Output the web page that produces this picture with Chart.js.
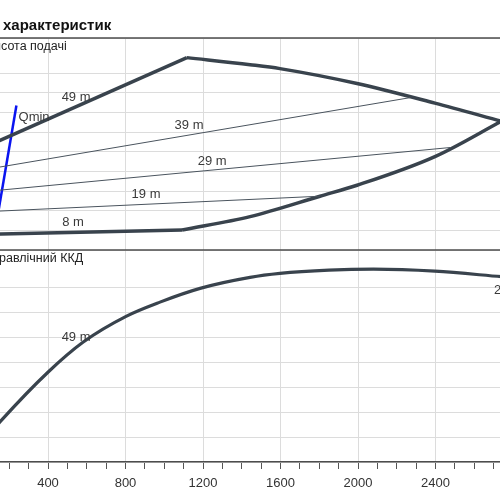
<!DOCTYPE html>
<html>
<head>
<meta charset="utf-8">
<script src="https://cdn.jsdelivr.net/npm/chart.js@4"></script>
<style>
  html, body { margin: 0; padding: 0; width: 500px; height: 500px; overflow: hidden; background: #fff; }
  #wrap { position: absolute; left: -70px; top: 0; width: 603px; height: 500px; }
</style>
</head>
<body>
<div id="wrap"><canvas id="c"></canvas></div>
<script>
// ---- data (flow in m³/h, head in m, efficiency in %) ----
const xTickLabels = [0, 400, 800, 1200, 1600, 2000, 2400];

const envLeftQ  = [100, 1117];
const envLeftH  = [26.8, 49.0];
const envRightQ = [1117, 1443, 1597, 1995, 2397, 2740];
const envRightH = [49.0, 47.2, 46.2, 42.4, 37.4, 32.8];

const sysFlatQ = [100, 1092];
const sysFlatH = [4.0, 5.1];
const sysRiseQ = [1092, 1443, 1804, 1995, 2397, 2740];
const sysRiseH = [5.1, 8.5, 13.7, 16.5, 23.8, 32.8];

const line39Q = [100, 2268];
const line39H = [20.7, 38.8];
const line29Q = [100, 2475];
const line29H = [15.0, 26.1];
const line19Q = [100, 1804];
const line19H = [9.8, 13.7];

const qminQ = [130, 237];
const qminH = [5.8, 36.8];

const effQ = [120, 152, 401, 582, 803, 978, 1185, 1443, 1597, 1850, 2080, 2397, 2740];
const effV = [13.2, 16.1, 36.1, 48.1, 58.4, 64.1, 69.6, 74.0, 75.6, 76.9, 77.3, 76.5, 74.3];

const CANVAS_LEFT = -70;
const FONT = '"Liberation Sans", Arial, sans-serif';
const CURVE = '#39434d';

function pts(q, v) { return q.map((x, i) => ({ x: x, y: v[i] })); }

function ds(q, v, axis, opts) {
  return Object.assign({
    data: pts(q, v), yAxisID: axis, borderColor: CURVE, borderWidth: 3.5,
    pointRadius: 0, fill: false, tension: 0
  }, opts || {});
}

const curveLabels = [
  { t: '49 m', q: 545, v: 38.8, axis: 'yHead', align: 'center' },
  { t: 'Qmin', q: 328, v: 33.8, axis: 'yHead', align: 'center' },
  { t: '39 m', q: 1128, v: 31.7, axis: 'yHead', align: 'center' },
  { t: '29 m', q: 1247, v: 22.6, axis: 'yHead', align: 'center' },
  { t: '19 m', q: 906, v: 14.2, axis: 'yHead', align: 'center' },
  { t: '8 m', q: 529, v: 6.9, axis: 'yHead', align: 'center' },
  { t: '49 m', q: 545, v: 50.0, axis: 'yEff', align: 'center' },
  { t: '29 m', q: 2702, v: 68.6, axis: 'yEff', align: 'left' }
];

const annot = {
  id: 'annot',
  afterDatasetsDraw(chart) {
    const { ctx, scales } = chart;
    const x = scales.x;
    ctx.save();
    // panel separators
    ctx.strokeStyle = '#4d4d4d';
    ctx.lineWidth = 1.5;
    [scales.yHead.top, scales.yEff.top].forEach(y => {
      ctx.beginPath(); ctx.moveTo(0, y); ctx.lineTo(chart.width, y); ctx.stroke();
    });
    // title
    ctx.fillStyle = '#111';
    ctx.textBaseline = 'middle';
    ctx.textAlign = 'left';
    ctx.font = 'bold 15px ' + FONT;
    ctx.fillText('Графік характеристик', 3 - CANVAS_LEFT - ctx.measureText('Графік ').width, 26);
    // panel labels
    ctx.font = '12.5px ' + FONT;
    ctx.fillStyle = '#222';
    ctx.fillText('Висота подачі', 1 - CANVAS_LEFT - ctx.measureText('Ви').width, scales.yHead.top + 9);
    ctx.fillText('Гідравлічний ККД', -1 - CANVAS_LEFT - ctx.measureText('Гід').width, scales.yEff.top + 9);
    // curve labels
    ctx.font = '13px ' + FONT;
    ctx.fillStyle = '#3a3a3a';
    curveLabels.forEach(l => {
      ctx.textAlign = l.align;
      ctx.fillText(l.t, x.getPixelForValue(l.q), scales[l.axis].getPixelForValue(l.v));
    });
    ctx.restore();
  }
};

new Chart(document.getElementById('c'), {
  type: 'line',
  data: {
    datasets: [
      ds(line39Q, line39H, 'yHead', { borderWidth: 1, borderColor: '#4a545e' }),
      ds(line29Q, line29H, 'yHead', { borderWidth: 1, borderColor: '#4a545e' }),
      ds(line19Q, line19H, 'yHead', { borderWidth: 1, borderColor: '#4a545e' }),
      ds(envLeftQ, envLeftH, 'yHead'),
      ds(envRightQ, envRightH, 'yHead', { cubicInterpolationMode: 'monotone' }),
      ds(sysFlatQ, sysFlatH, 'yHead'),
      ds(sysRiseQ, sysRiseH, 'yHead', { cubicInterpolationMode: 'monotone' }),
      ds(qminQ, qminH, 'yHead', { borderColor: '#0a14f0', borderWidth: 2.5 }),
      ds(effQ, effV, 'yEff', { borderWidth: 3.2, cubicInterpolationMode: 'monotone' })
    ]
  },
  options: {
    responsive: true,
    maintainAspectRatio: false,
    animation: false,
    devicePixelRatio: 1,
    layout: { padding: { left: 40.5, right: 20, top: 38, bottom: 1.4 } },
    plugins: { legend: { display: false }, tooltip: { enabled: false }, title: { display: false } },
    scales: {
      x: {
        type: 'linear', min: 0, max: 2800,
        grid: {
          color: c => (c.tick && c.tick.value % 400 === 0) ? '#dcdcdc' : 'rgba(0,0,0,0)',
          tickColor: '#555', tickLength: 7, lineWidth: 1
        },
        border: { color: '#4d4d4d', width: 1.5 },
        ticks: {
          stepSize: 100, autoSkip: false, maxRotation: 0, padding: 7,
          color: '#333', font: { family: FONT, size: 13 },
          callback: v => xTickLabels.includes(v) ? String(v) : ''
        }
      },
      yEff: {
        type: 'linear', position: 'left', stack: 'panels', stackWeight: 1,
        min: 0, max: 85,
        ticks: { display: false, stepSize: 10 },
        grid: { color: '#dcdcdc', drawTicks: false },
        border: { display: false }
      },
      yHead: {
        type: 'linear', position: 'left', stack: 'panels', stackWeight: 1,
        min: 0, max: 54,
        ticks: { display: false, stepSize: 5 },
        grid: { color: '#dcdcdc', drawTicks: false },
        border: { display: false }
      }
    }
  },
  plugins: [annot]
});
</script>
</body>
</html>
